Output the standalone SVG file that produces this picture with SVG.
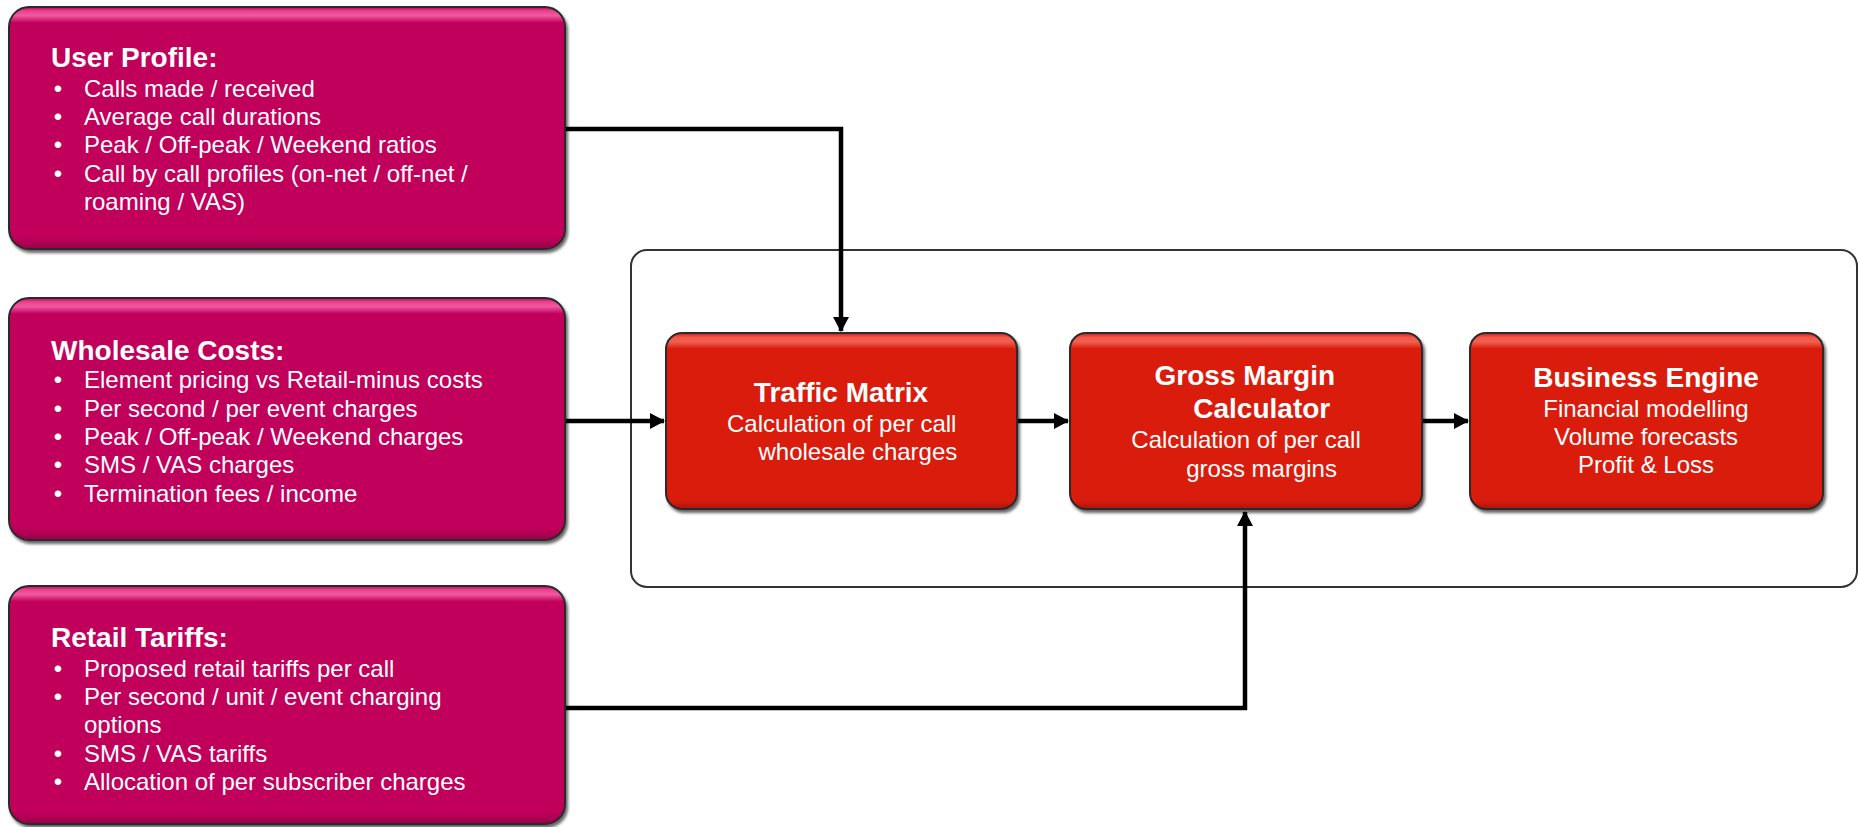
<svg xmlns="http://www.w3.org/2000/svg" width="1859" height="827" viewBox="0 0 1859 827">
<defs>
<linearGradient id="gMag" x1="0" y1="0" x2="0" y2="1">
<stop offset="0" stop-color="#B8005A"/>
<stop offset="0.015" stop-color="#E8408C"/>
<stop offset="0.035" stop-color="#F25AA0"/>
<stop offset="0.065" stop-color="#C1035C"/>
<stop offset="0.95" stop-color="#C1035C"/>
<stop offset="1" stop-color="#98004A"/>
</linearGradient>
<linearGradient id="gRed" x1="0" y1="0" x2="0" y2="1">
<stop offset="0" stop-color="#D0200F"/>
<stop offset="0.025" stop-color="#F0574A"/>
<stop offset="0.05" stop-color="#F2604F"/>
<stop offset="0.09" stop-color="#DA1C0E"/>
<stop offset="0.95" stop-color="#DA1C0E"/>
<stop offset="1" stop-color="#AE160A"/>
</linearGradient>
<filter id="shadow" x="-5%" y="-5%" width="115%" height="120%">
<feDropShadow dx="2" dy="3" stdDeviation="1.5" flood-color="#000" flood-opacity="0.6"/>
</filter>
<marker id="arrow" markerUnits="userSpaceOnUse" markerWidth="16" markerHeight="16" refX="14" refY="8" orient="auto">
<path d="M0,0 L15,8 L0,16 Z" fill="#000"/>
</marker>
</defs>
<style>
.mag{fill:url(#gMag);stroke:#2a2a2a;stroke-width:2;filter:url(#shadow)}
.red{fill:url(#gRed);stroke:#2a2a2a;stroke-width:2;filter:url(#shadow)}
.t{font-family:"Liberation Sans",Arial,sans-serif;fill:#fff}
.h{font-size:28px;font-weight:bold}
.b{font-size:24px}
.c{text-anchor:middle}
.conn{fill:none;stroke:#000;stroke-width:4.5;stroke-linejoin:miter}
.cont{fill:none;stroke:#333;stroke-width:2}
</style>

<g id="container">
<rect class="cont" x="631" y="250" width="1226" height="337" rx="16"/>
</g>

<g id="connectors">
<path class="conn" d="M566,129 H841 V331" marker-end="url(#arrow)"/>
<path class="conn" d="M566,421 H664" marker-end="url(#arrow)"/>
<path class="conn" d="M1017,421 H1068" marker-end="url(#arrow)"/>
<path class="conn" d="M1422,421 H1468" marker-end="url(#arrow)"/>
<path class="conn" d="M566,708 H1245 V512" marker-end="url(#arrow)"/>
</g>

<g id="user-profile">
<rect class="mag" x="9" y="7" width="556" height="242" rx="20"/>
<text class="t h" x="51" y="66.7">User Profile:</text>
<g class="t b">
<text x="58" y="96.7" class="c">•</text><text x="84" y="96.7">Calls made / received</text>
<text x="58" y="125" class="c">•</text><text x="84" y="125">Average call durations</text>
<text x="58" y="153.3" class="c">•</text><text x="84" y="153.3">Peak / Off-peak / Weekend ratios</text>
<text x="58" y="181.7" class="c">•</text><text x="84" y="181.7">Call by call profiles (on-net / off-net /</text>
<text x="84" y="210">roaming / VAS)</text>
</g>
</g>

<g id="wholesale-costs">
<rect class="mag" x="9" y="298" width="556" height="242" rx="20"/>
<text class="t h" x="51" y="360">Wholesale Costs:</text>
<g class="t b">
<text x="58" y="388.3" class="c">•</text><text x="84" y="388.3">Element pricing vs Retail-minus costs</text>
<text x="58" y="416.7" class="c">•</text><text x="84" y="416.7">Per second / per event charges</text>
<text x="58" y="445" class="c">•</text><text x="84" y="445">Peak / Off-peak / Weekend charges</text>
<text x="58" y="473.3" class="c">•</text><text x="84" y="473.3">SMS / VAS charges</text>
<text x="58" y="501.7" class="c">•</text><text x="84" y="501.7">Termination fees / income</text>
</g>
</g>

<g id="retail-tariffs">
<rect class="mag" x="9" y="586" width="556" height="238" rx="20"/>
<text class="t h" x="51" y="646.7">Retail Tariffs:</text>
<g class="t b">
<text x="58" y="676.7" class="c">•</text><text x="84" y="676.7">Proposed retail tariffs per call</text>
<text x="58" y="705" class="c">•</text><text x="84" y="705">Per second / unit / event charging</text>
<text x="84" y="733.3">options</text>
<text x="58" y="761.7" class="c">•</text><text x="84" y="761.7">SMS / VAS tariffs</text>
<text x="58" y="790" class="c">•</text><text x="84" y="790">Allocation of per subscriber charges</text>
</g>
</g>

<g id="traffic-matrix">
<rect class="red" x="666" y="333" width="351" height="176" rx="16"/>
<text class="t h c" x="841" y="401.7">Traffic Matrix</text>
<text class="t b" x="727" y="431.7">Calculation of per call</text>
<text class="t b" x="758.5" y="460">wholesale charges</text>
</g>

<g id="gross-margin-calculator">
<rect class="red" x="1070" y="333" width="352" height="176" rx="16"/>
<text class="t h" x="1154.6" y="385">Gross Margin</text>
<text class="t h" x="1193.3" y="418.3">Calculator</text>
<text class="t b" x="1131.3" y="448.3">Calculation of per call</text>
<text class="t b" x="1186.2" y="476.7">gross margins</text>
</g>

<g id="business-engine">
<rect class="red" x="1470" y="333" width="353" height="176" rx="16"/>
<text class="t h c" x="1646" y="386.7">Business Engine</text>
<text class="t b c" x="1646" y="416.7">Financial modelling</text>
<text class="t b c" x="1646" y="445">Volume forecasts</text>
<text class="t b c" x="1646" y="473.3">Profit &amp; Loss</text>
</g>
</svg>
